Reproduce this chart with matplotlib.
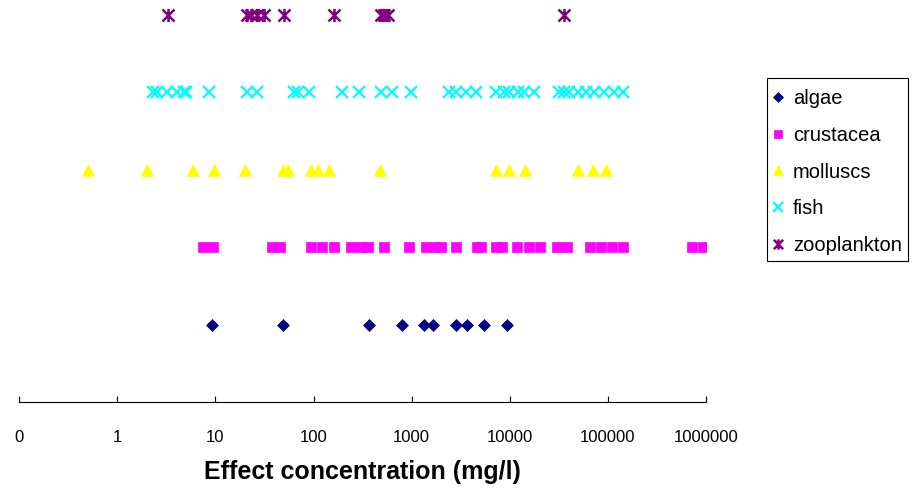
import matplotlib
matplotlib.use("Agg")
import matplotlib.pyplot as plt
from matplotlib.path import Path
from matplotlib.patches import Rectangle
import numpy as np

plt.rcParams['font.family'] = ['Liberation Sans', 'DejaVu Sans']

categories = ["algae", "crustacea", "molluscs", "fish", "zooplankton"]

algae = [9.3, 49, 370, 790, 1350, 1640, 2870, 3660, 5460, 9400]
crustacea = [7.5, 9.5, 38, 46, 94, 121, 161, 240, 304, 358, 522, 940, 1400,
             1730, 2000, 2850, 4660, 5130, 7300, 8400, 12000, 15900, 20500,
             30700, 38800, 66700, 86400, 112000, 142000, 720000, 933000]
molluscs = [0.5, 2.0, 5.9, 9.7, 19.8, 48.7, 54.8, 95, 110, 144, 479, 7180,
            9840, 14500, 49400, 71000, 95700]
fish = [2.32, 2.54, 3.2, 4.06, 4.74, 5.05, 8.5, 20.8, 26.3, 62.8, 68.9, 89,
        194, 290, 486, 630, 986, 2410, 2840, 3600, 4550, 7290, 8810, 9910,
        12200, 14100, 17900, 32200, 36200, 40700, 50300, 60700, 73300, 92700,
        117000, 145000]
zooplankton = [3.3, 21, 22.8, 26.3, 31.2, 49.9, 162, 487, 526, 578, 35900]

tick_values = [0.1, 1, 10, 100, 1000, 10000, 100000, 1000000]
tick_labels = ["0", "1", "10", "100", "1000", "10000", "100000", "1000000"]

star = Path([(-1, -1), (1, 1), (-1, 1), (1, -1), (0, -1.1), (0, 1.1)],
            [Path.MOVETO, Path.LINETO, Path.MOVETO, Path.LINETO, Path.MOVETO, Path.LINETO])

series = [
    (algae, dict(marker='D', color='#000080', ms=6.5, mew=0.5, mec='#000080')),
    (crustacea, dict(marker='s', color='#FF00FF', ms=7.6, mew=0.5, mec='#FF00FF')),
    (molluscs, dict(marker='^', color='#FFFF00', ms=9.2, mew=0.5, mec='#FFFF00')),
    (fish, dict(marker='x', color='#00FFFF', ms=8.5, mew=1.6)),
    (zooplankton, dict(marker=star, color='#800080', ms=9.5, mew=1.8)),
]

W, H = 913, 494
fig = plt.figure(figsize=(W / 100, H / 100), dpi=100)
ax = fig.add_axes([19.4 / W, 92 / H, 686.3 / W, 402 / H])

for i, (vals, style) in enumerate(series):
    ax.plot(vals, [i + 1] * len(vals), linestyle='none', label=categories[i], **style)

ax.set_xscale('log')
ax.set_xlim(0.1, 1000000)
ax.set_ylim(0, 402 / 77.4)
ax.set_xticks(tick_values)
ax.set_xticklabels(tick_labels, fontsize=12)
ax.xaxis.set_minor_locator(matplotlib.ticker.NullLocator())
ax.tick_params(axis='x', direction='in', length=4, width=0.8, pad=20)
ax.set_yticks([])
for s in ['top', 'right', 'left']:
    ax.spines[s].set_visible(False)
ax.spines['bottom'].set_linewidth(0.8)
ax.set_xlabel("Effect concentration (mg/l)", fontsize=18, fontweight='bold', labelpad=11)

leg = fig.legend(loc='upper left', bbox_to_anchor=(772 / W, 1 - 89.5 / H),
                 frameon=False, fontsize=14.5, labelspacing=0.87,
                 handlelength=0.6, handletextpad=0.45, borderpad=0,
                 borderaxespad=0, markerscale=0.78)

fig.add_artist(Rectangle((767 / W, 1 - 261 / H), (908 - 767) / W, (261 - 78) / H,
                         transform=fig.transFigure, fill=False,
                         edgecolor='black', linewidth=0.8))

fig.savefig("out.png", dpi=100)
